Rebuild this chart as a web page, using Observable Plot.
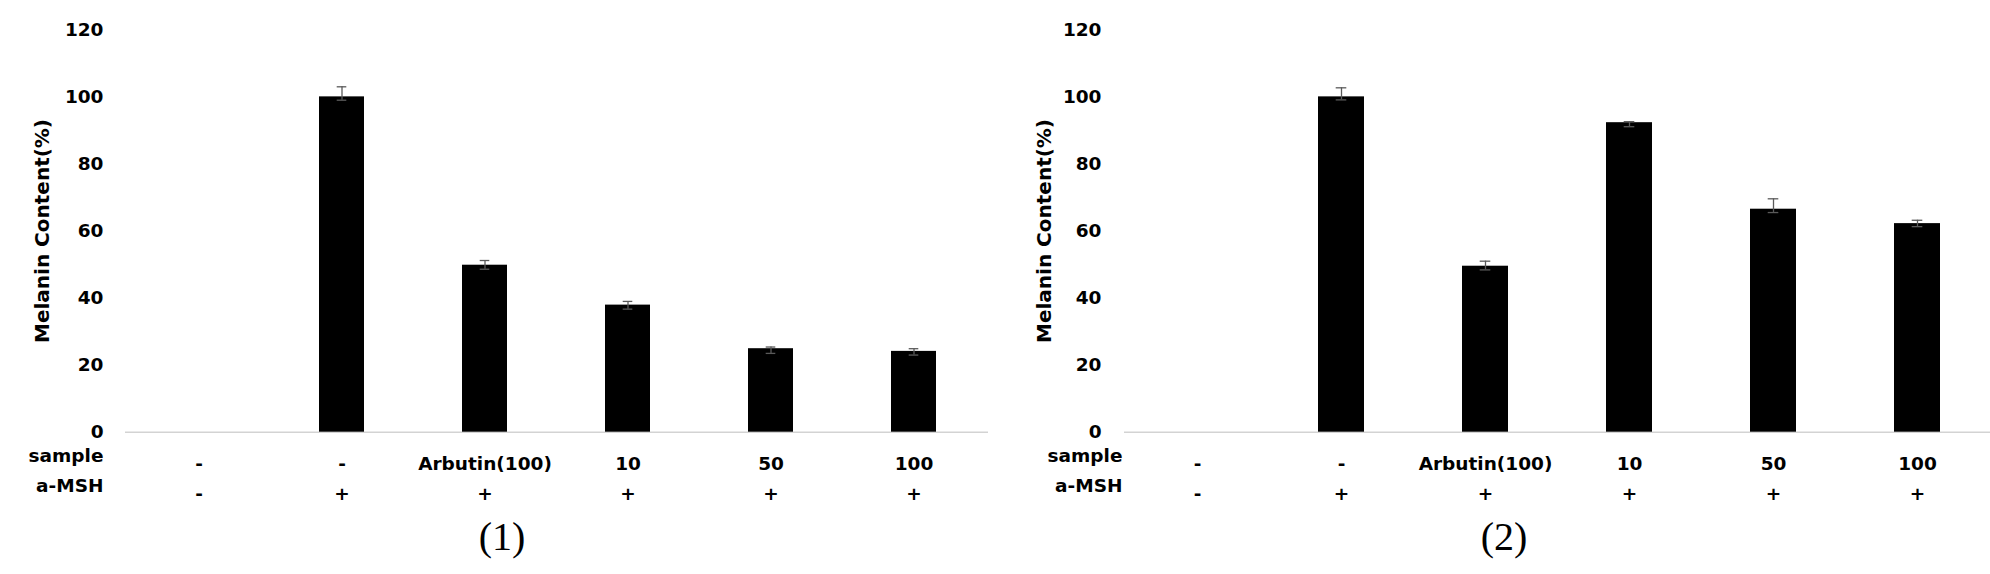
<!DOCTYPE html>
<html>
<head>
<meta charset="utf-8">
<script src="https://cdn.jsdelivr.net/npm/d3@7"></script>
<script src="https://cdn.jsdelivr.net/npm/@observablehq/plot@0.6"></script>
<style>
  html, body { margin: 0; padding: 0; background: #fff; }
  #wrap { position: relative; width: 1990px; height: 574px; overflow: hidden; background: #fff; }
  #wrap > div { position: absolute; top: 0; }
</style>
</head>
<body>
<div id="wrap"><div id="p1"></div><div id="p2"></div></div>
<script>
// ---- data ----
const groups = ["g1", "g2", "g3", "g4", "g5", "g6"];
const sampleLabels = ["-", "-", "Arbutin(100)", "10", "50", "100"];
const mshLabels = ["-", "+", "+", "+", "+", "+"];
const yTicks = [0, 20, 40, 60, 80, 100, 120];
const yTitle = "Melanin Content(%)";

// panel (1)
const melanin1 = [null, 100.0, 49.8, 37.9, 24.9, 24.1];
const errHi1   = [null, 3.0, 1.4, 1.1, 0.5, 0.8];
const errLo1   = [null, 1.0, 1.2, 1.2, 1.4, 1.1];
// panel (2)
const melanin2 = [null, 100.0, 49.5, 92.3, 66.5, 62.2];
const errHi2   = [null, 2.7, 1.5, 0.3, 3.1, 1.0];
const errLo2   = [null, 0.9, 1.1, 1.2, 1.0, 0.9];

const captions = ["(1)", "(2)"];
const rowNames = ["sample", "a-MSH"];

function panel(values, hi, lo, cfg) {
  const rows = groups.map((g, i) => ({
    g, sample: sampleLabels[i], msh: mshLabels[i], v: values[i],
    hi: values[i] == null ? null : values[i] + hi[i],
    lo: values[i] == null ? null : values[i] - lo[i]
  }));
  const withBars = rows.filter(d => d.v != null);
  return Plot.plot({
    width: cfg.width,
    height: 574,
    marginLeft: cfg.marginLeft,
    marginRight: cfg.marginRight,
    marginTop: 29.3,
    marginBottom: 142.3,
    style: {fontFamily: "'DejaVu Sans', sans-serif", fontSize: "18.5px", fontWeight: "bold", color: "black", background: "white", overflow: "visible"},
    x: {domain: groups, type: "band", paddingInner: 0.684, paddingOuter: 0.342, axis: null},
    y: {domain: [0, 120], axis: null},
    marks: [
      Plot.axisY({ticks: yTicks, tickSize: 0, tickPadding: cfg.tickPad, label: null, tickFormat: d => String(d)}),
      Plot.ruleY([0], {stroke: "#d3d3d3", strokeWidth: 1.4}),
      Plot.barY(withBars, {x: "g", y: "v", fill: "black"}),
      Plot.ruleX(withBars, {x: "g", y1: "lo", y2: "hi", stroke: "#5a5a5a", strokeWidth: 1.3}),
      Plot.tickY(withBars, {x: "g", y: "hi", stroke: "#5a5a5a", strokeWidth: 1.3, insetLeft: 17.7, insetRight: 17.7}),
      Plot.tickY(withBars, {x: "g", y: "lo", stroke: "#5a5a5a", strokeWidth: 1.3, insetLeft: 17.7, insetRight: 17.7}),
      Plot.text(rows, {x: "g", text: "sample", frameAnchor: "bottom", dy: 31.5, lineAnchor: "middle"}),
      Plot.text(rows, {x: "g", text: "msh", frameAnchor: "bottom", dy: 61.5, lineAnchor: "middle"}),
      Plot.text([rowNames[0]], {text: d => d, frameAnchor: "bottom-left", dx: cfg.rowDx, dy: 23.5, textAnchor: "end", lineAnchor: "middle"}),
      Plot.text([rowNames[1]], {text: d => d, frameAnchor: "bottom-left", dx: cfg.rowDx, dy: 53.5, textAnchor: "end", lineAnchor: "middle"}),
      Plot.text([yTitle], {text: d => d, frameAnchor: "left", dx: cfg.titleDx, rotate: -90, textAnchor: "middle", lineAnchor: "middle", fontSize: 20}),
      Plot.text([cfg.caption], {text: d => d, frameAnchor: "bottom", dx: cfg.captionDx, dy: 104.5, lineAnchor: "middle", fontFamily: "'Liberation Serif', 'Times New Roman', serif", fontWeight: "normal", fontSize: 40})
    ]
  });
}

const p1 = document.getElementById("p1");
p1.style.left = "0px";
p1.append(panel(melanin1, errHi1, errLo1, {
  width: 990, marginLeft: 125, marginRight: 2, tickPad: 22,
  rowDx: -22, titleDx: -83, caption: captions[0], captionDx: -55
}));

const p2 = document.getElementById("p2");
p2.style.left = "999px";
p2.append(panel(melanin2, errHi2, errLo2, {
  width: 991, marginLeft: 125, marginRight: 0, tickPad: 23,
  rowDx: -2, titleDx: -80, caption: captions[1], captionDx: -53.5
}));
</script>
</body>
</html>
